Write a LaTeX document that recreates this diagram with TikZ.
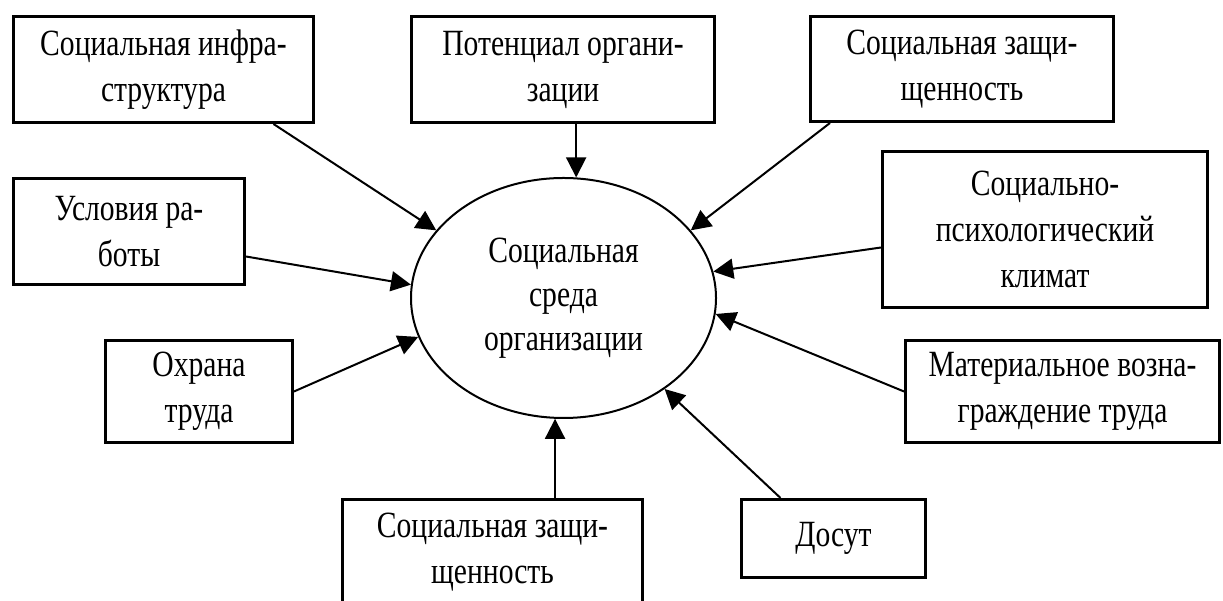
\documentclass[tikz,border=0pt]{standalone}
\usepackage{fontspec}
\setmainfont{Liberation Serif}[FakeStretch=0.8]
\usetikzlibrary{arrows.meta,shapes.geometric}

\tikzset{
    factorbox/.style={draw, line width=3pt, align=center, inner sep=0pt,
        font=\fontsize{37}{46}\selectfont},
    envshape/.style={draw, ellipse, line width=2pt, align=center, inner sep=0pt,
        minimum width=305pt, minimum height=240pt, font=\fontsize{37}{44}\selectfont},
    influence/.style={-{Triangle[length=20pt,width=20pt]}, line width=2pt}
}

\begin{document}
\begin{tikzpicture}[x=1pt, y=1pt]
    \useasboundingbox (0,0) rectangle (1223,601);

    \node[envshape] (sreda) at (563.5,303) {Социальная\\среда\\организации};

    \node[factorbox, minimum width=300pt, minimum height=106pt] (infra) at (163.5,531.5) {Социальная инфра-\\структура};
    \node[factorbox, minimum width=303pt, minimum height=106pt] (potent) at (563,531.5) {Потенциал органи-\\зации};
    \node[factorbox, minimum width=303pt, minimum height=105pt] (zaschtop) at (962,532) {Социальная защи-\\щенность};
    \node[factorbox, minimum width=325pt, minimum height=156pt] (klimat) at (1045,371.5) {Социально-\\психологический\\климат};
    \node[factorbox, minimum width=231pt, minimum height=106pt] (usloviya) at (129,369.5) {Условия ра-\\боты};
    \node[factorbox, minimum width=187pt, minimum height=102pt] (ohrana) at (199,209.5) {Охрана\\труда};
    \node[factorbox, minimum width=314pt, minimum height=102pt] (voznagr) at (1062.5,209.5) {Материальное возна-\\граждение труда};
    \node[factorbox, minimum width=184pt, minimum height=78pt] (dosut) at (833.5,62.5) {Досут};
    \node[factorbox, minimum width=300pt, minimum height=106pt] (zaschbot) at (492.5,48.5) {Социальная защи-\\щенность};

    \draw[influence] ([xshift=110pt]infra.south) -- (sreda.152);
    \draw[influence] (potent.south -| sreda.84) -- (sreda.84);
    \draw[influence] ([xshift=-132pt]zaschtop.south) -- (sreda.28);
    \draw[influence] ([yshift=-18pt]klimat.west) -- (sreda.10);
    \draw[influence] ([yshift=-25pt]usloviya.east) -- (sreda.175);
    \draw[influence] (ohrana.east) -- (sreda.195);
    \draw[influence] (voznagr.west) -- (sreda.354);
    \draw[influence] ([xshift=-53pt]dosut.north) -- (sreda.318);
    \draw[influence] (zaschbot.north -| sreda.266) -- (sreda.266);
\end{tikzpicture}
\end{document}
